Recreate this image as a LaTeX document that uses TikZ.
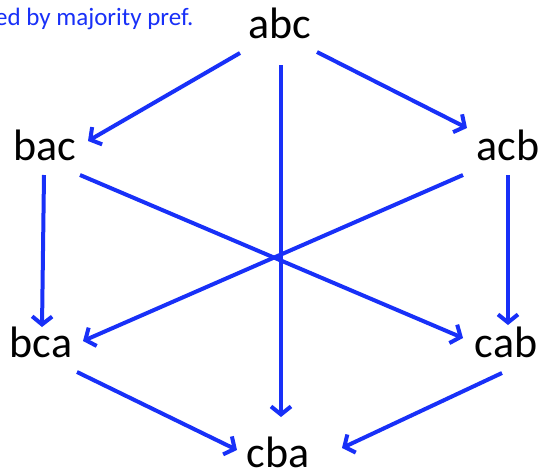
\documentclass[tikz,border=0pt]{standalone}
\usepackage{fontspec}
\setmainfont{Carlito}
\usetikzlibrary{arrows.meta}
\definecolor{lineblue}{RGB}{24,48,248}
\begin{document}
\begin{tikzpicture}[x=1pt,y=-1pt,
  perm/.style={inner sep=0pt,font=\fontsize{44}{48}\selectfont,text=black},
  arr/.style={draw=lineblue,line width=4pt,-{Straight Barb[length=8pt,width=20pt]}}]
\useasboundingbox (0,0) rectangle (544,472);
\clip (0,0) rectangle (544,472);
\fill[white] (0,0) rectangle (544,472);
\node[anchor=base west,inner sep=0pt,font=\fontsize{25}{28}\selectfont,text=lineblue] (title) at (-5,25) {ed by majority pref.};
\node[perm,anchor=base] (abc) at (280,38) {abc};
\node[perm,anchor=base] (bac) at (45,160) {bac};
\node[perm,anchor=base] (acb) at (508,160) {acb};
\node[perm,anchor=base] (bca) at (41,357) {bca};
\node[perm,anchor=base] (cab) at (506,357) {cab};
\node[perm,anchor=base] (cba) at (278,467) {cba};
\draw[arr] ([shift={(-40,15)}]abc.base) -- ([shift={(43,-19)}]bac.base);
\draw[arr] ([shift={(37,14)}]abc.base) -- ([shift={(-41,-32)}]acb.base);
\draw[arr] ([shift={(1,27)}]abc.base) -- ([shift={(3,-50)}]cba.base);
\draw[arr] ([shift={(-1,15)}]bac.base) -- ([shift={(1,-30)}]bca.base);
\draw[arr] ([shift={(0,15)}]acb.base) -- ([shift={(2,-32)}]cab.base);
\draw[arr] ([shift={(35,15)}]bac.base) -- ([shift={(-43,-19)}]cab.base);
\draw[arr] ([shift={(-45,15)}]acb.base) -- ([shift={(42,-16)}]bca.base);
\draw[arr] ([shift={(36,15)}]bca.base) -- ([shift={(-41,-17)}]cba.base);
\draw[arr] ([shift={(-4,16)}]cab.base) -- ([shift={(64,-19)}]cba.base);
\end{tikzpicture}
\end{document}
